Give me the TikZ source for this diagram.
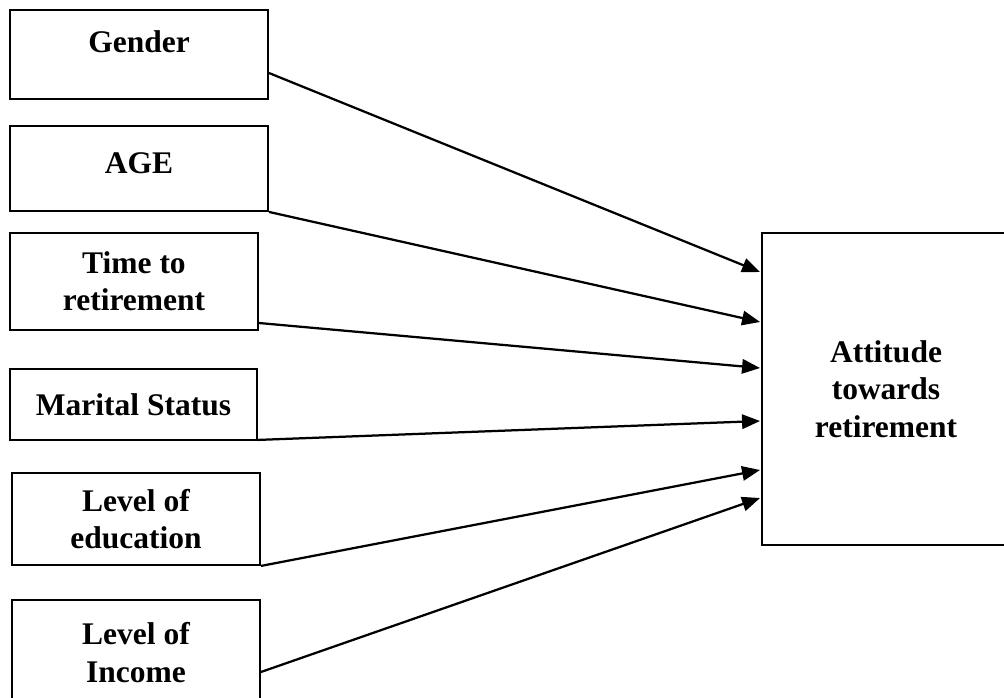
\documentclass[tikz,border=0pt]{standalone}
\usepackage{fontspec}
\setmainfont{Liberation Serif}
\usetikzlibrary{arrows.meta, calc}

\begin{document}
\begin{tikzpicture}[
    x=0.025cm, y=-0.025cm,
    factor/.style={draw, line width=1.3pt, inner sep=0pt, align=center, font=\fontsize{22.4}{26.5}\selectfont\bfseries},
    caption/.style={inner sep=0pt, font=\fontsize{22.4}{26.5}\selectfont\bfseries},
    link/.style={line width=1.6pt, -{Triangle[length=0.45cm, width=0.36cm]}},
]
    \useasboundingbox (0,0) rectangle (1004,697);

    % Factors
    \node[factor, minimum width=6.45cm, minimum height=2.225cm] (gender) at (139, 54.5) {};
    \node[caption] (genderlbl) at (139, 42) {Gender};

    \node[factor, minimum width=6.45cm, minimum height=2.125cm] (age) at (139, 168.5) {};
    \node[caption] (agelbl) at (139, 163) {AGE};

    \node[factor, minimum width=6.2cm, minimum height=2.425cm] (time) at (134, 281.5) {Time to\\retirement};
    \node[factor, minimum width=6.175cm, minimum height=1.775cm] (marital) at (133.5, 404.5) {Marital Status};
    \node[factor, minimum width=6.2cm, minimum height=2.3cm] (education) at (136, 519) {Level of\\education};
    \node[factor, minimum width=6.2cm, minimum height=2.625cm] (income) at (136, 652.5) {Level of\\Income};

    % Outcome
    \node[factor, minimum width=6.2cm, minimum height=7.8cm] (attitude) at (886, 389) {Attitude\\towards\\retirement};

    % Links
    \draw[link] ($(gender.east)+(0,18.5)$) -- ($(attitude.west)+(-1,-117)$);
    \draw[link] (age.south east) -- ($(attitude.west)+(-1,-67)$);
    \draw[link] ($(time.east)+(0,41.5)$) -- ($(attitude.west)+(-1,-21)$);
    \draw[link] ($(marital.south east)+(0,-1)$) -- ($(attitude.west)+(-1,32)$);
    \draw[link] (education.south east) -- ($(attitude.west)+(-1,81)$);
    \draw[link] ($(income.east)+(0,19.5)$) -- ($(attitude.west)+(-1,109)$);

\end{tikzpicture}
\end{document}
